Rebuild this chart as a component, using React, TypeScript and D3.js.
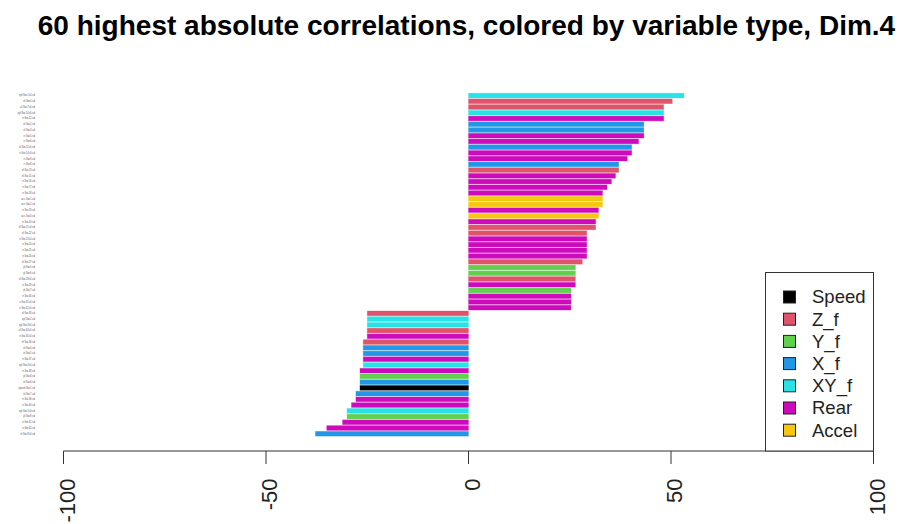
import React, { useEffect, useRef } from 'react';
import * as d3 from 'd3';

// variables, top to bottom (largest positive first)
const labels = [
  'xyf.Sw.1.t0.sd', 'zf.Sw.4.sd', 'zf.Sw.7.t0.sd', 'xyf.Sw.10.t0.sd', 'rr.Sw.12.sd',
  'xf.Sw.2.sd', 'xf.Sw.3.sd', 'rr.Sw.5.sd', 'rr.Sw.6.sd', 'xf.Sw.11.t0.sd',
  'rr.Sw.14.t0.sd', 'rr.Sw.9.sd', 'rr.Sw.8.sd', 'xf.Sw.13.sd', 'zf.Sw.15.sd',
  'rr.Sw.16.sd', 'rr.Sw.17.sd', 'rr.Sw.18.sd', 'acc.Sw.1.sd', 'acc.Sw.2.sd',
  'rr.Sw.19.sd', 'acc.Sw.3.sd', 'rr.Sw.20.sd', 'zf.Sw.21.t0.sd', 'zf.Sw.22.sd',
  'rr.Sw.23.t0.sd', 'rr.Sw.24.sd', 'rr.Sw.25.sd', 'rr.Sw.26.sd', 'zf.Sw.27.sd',
  'yf.Sw.5.sd', 'yf.Sw.6.sd', 'zf.Sw.28.t0.sd', 'rr.Sw.29.sd', 'yf.Sw.7.sd',
  'rr.Sw.30.sd', 'rr.Sw.31.t0.sd', 'rr.Sw.32.t0.sd', 'zf.Sw.33.sd', 'xyf.Sw.2.sd',
  'xyf.Sw.3.t0.sd', 'zf.Sw.34.t0.sd', 'rr.Sw.35.t0.sd', 'zf.Sw.36.sd', 'xf.Sw.4.sd',
  'xf.Sw.5.sd', 'rr.Sw.37.sd', 'xyf.Sw.4.t0.sd', 'rr.Sw.38.sd', 'yf.Sw.8.sd',
  'xf.Sw.6.sd', 'speed.Sw.1.sd', 'xf.Sw.7.sd', 'rr.Sw.39.sd', 'rr.Sw.40.sd',
  'xyf.Sw.5.t0.sd', 'yf.Sw.9.sd', 'rr.Sw.41.sd', 'rr.Sw.42.sd', 'xf.Sw.8.t0.sd',
];

const values = [
  53.2, 50.3, 48.2, 48.2, 48.2, 43.3, 43.3, 43.3, 42.0, 40.3,
  40.3, 39.2, 37.1, 37.1, 36.3, 35.3, 34.2, 33.1, 33.1, 33.1,
  32.1, 32.1, 31.4, 31.4, 29.2, 29.2, 29.2, 29.2, 29.2, 28.1,
  26.4, 26.4, 26.4, 26.4, 25.3, 25.3, 25.3, 25.3, -25.0, -25.0,
  -25.0, -25.0, -25.0, -26.0, -26.0, -26.0, -26.0, -26.0, -26.8, -26.8,
  -26.8, -26.8, -27.8, -27.8, -28.9, -30.0, -30.0, -31.1, -35.0, -37.8,
];

const types = [
  'XY_f', 'Z_f', 'Z_f', 'XY_f', 'Rear', 'X_f', 'X_f', 'Rear', 'Rear', 'X_f',
  'Rear', 'Rear', 'X_f', 'Z_f', 'Rear', 'Rear', 'Rear', 'Rear', 'Accel', 'Accel',
  'Rear', 'Accel', 'Rear', 'Z_f', 'Z_f', 'Rear', 'Rear', 'Rear', 'Rear', 'Z_f',
  'Y_f', 'Y_f', 'Z_f', 'Rear', 'Y_f', 'Rear', 'Rear', 'Rear', 'Z_f', 'XY_f',
  'XY_f', 'Z_f', 'Rear', 'Z_f', 'X_f', 'X_f', 'Rear', 'XY_f', 'Rear', 'Y_f',
  'X_f', 'Speed', 'X_f', 'Rear', 'Rear', 'XY_f', 'Y_f', 'Rear', 'Rear', 'X_f',
];

const legendTypes = ['Speed', 'Z_f', 'Y_f', 'X_f', 'XY_f', 'Rear', 'Accel'];
const legendColors = ['#000000', '#DF536B', '#61D04F', '#2297E6', '#28E2E5', '#CD0BBC', '#F5C710'];
const xTicks = [-100, -50, 0, 50, 100];

const App = () => {
  const svgRef = useRef(null);

  useEffect(() => {
    const svg = d3.select(svgRef.current);
    svg.selectAll('*').remove();

    const color = d3.scaleOrdinal<string, string>().domain(legendTypes).range(legendColors);
    const x = d3.scaleLinear().domain([-100, 100]).range([63.5, 873.5]);
    const y = d3.scaleBand()
      .domain(labels)
      .range([92.7, 436.6])
      .paddingInner(0.1667)
      .paddingOuter(0.0833);

    svg.append('text')
      .attr('x', 466.5)
      .attr('y', 34.5)
      .attr('text-anchor', 'middle')
      .style('font-family', 'Liberation Sans, Arial, sans-serif')
      .style('font-weight', 'bold')
      .style('font-size', '28px')
      .text('60 highest absolute correlations, colored by variable type, Dim.4');

    // bars
    svg.append('g')
      .selectAll('rect')
      .data(values)
      .enter().append('rect')
      .attr('x', (d) => x(Math.min(0, d)))
      .attr('width', (d) => Math.abs(x(d) - x(0)))
      .attr('y', (d, i) => y(labels[i]) as number)
      .attr('height', y.bandwidth())
      .attr('fill', (d, i) => color(types[i]))
      .attr('stroke', (d, i) => color(types[i]))
      .attr('stroke-opacity', 0.35)
      .attr('stroke-width', 0.8);

    // tiny row labels
    svg.append('g')
      .selectAll('text')
      .data(labels)
      .enter().append('text')
      .attr('x', 35)
      .attr('y', (d) => (y(d) as number) + y.bandwidth() / 2)
      .attr('dy', '0.35em')
      .attr('text-anchor', 'end')
      .style('font-family', 'Liberation Sans, Arial, sans-serif')
      .style('font-size', '2.6px')
      .attr('fill', '#556')
      .text((d) => d);

    // x axis
    const axis = svg.append('g').attr('transform', 'translate(0,451)');
    axis.append('line')
      .attr('x1', x(-100)).attr('x2', x(100))
      .attr('stroke', '#333').attr('stroke-width', 1);
    axis.selectAll('.tick')
      .data(xTicks)
      .enter().append('line')
      .attr('x1', (d) => x(d)).attr('x2', (d) => x(d))
      .attr('y1', 0).attr('y2', 13)
      .attr('stroke', '#333');
    axis.selectAll('.lab')
      .data(xTicks)
      .enter().append('text')
      .attr('transform', (d) => `translate(${x(d)},27.5) rotate(-90)`)
      .attr('dy', '0.5em')
      .attr('text-anchor', 'end')
      .style('font-family', 'Liberation Sans, Arial, sans-serif')
      .style('font-size', '22px')
      .attr('fill', '#222')
      .text((d) => String(d));

    // legend
    const lg = svg.append('g');
    lg.append('rect')
      .attr('x', 765.5).attr('y', 272.5)
      .attr('width', 108).attr('height', 178.5)
      .attr('fill', 'white').attr('stroke', '#333');
    legendTypes.forEach((t, i) => {
      const cy = 297 + i * 22.2;
      lg.append('rect')
        .attr('x', 783.5).attr('y', cy - 6)
        .attr('width', 12).attr('height', 12)
        .attr('fill', legendColors[i]).attr('stroke', '#222');
      lg.append('text')
        .attr('x', 812).attr('y', cy)
        .attr('dy', '0.35em')
        .style('font-family', 'Liberation Sans, Arial, sans-serif')
        .style('font-size', '18.5px')
        .attr('fill', '#222')
        .text(t);
    });
  }, []);

  return (
    <svg
      ref={svgRef}
      width={899}
      height={524}
      style={{ position: 'absolute', left: 0, top: 0, background: 'white' }}
    />
  );
};

export default App;
